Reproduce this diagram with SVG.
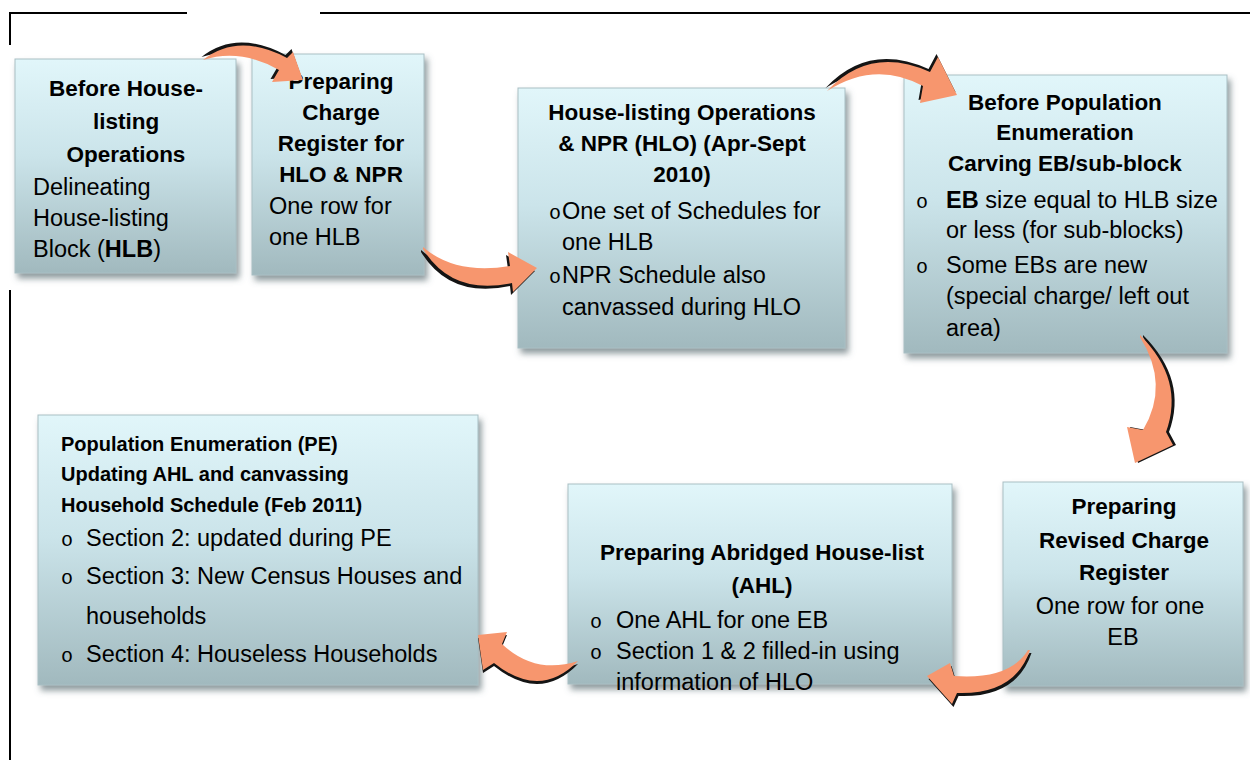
<svg xmlns="http://www.w3.org/2000/svg" xmlns:xlink="http://www.w3.org/1999/xlink" width="1250" height="760" viewBox="0 0 1250 760">
  <defs>
    <linearGradient id="boxGrad" x1="0" y1="0" x2="0" y2="1">
      <stop offset="0" stop-color="#e1f6fa"/>
      <stop offset="0.45" stop-color="#cbe4ea"/>
      <stop offset="1" stop-color="#a1b9be"/>
    </linearGradient>
    <filter id="shadow" x="-10%" y="-10%" width="125%" height="130%">
      <feDropShadow dx="3" dy="5" stdDeviation="3" flood-color="#5d7175" flood-opacity="0.7"/>
    </filter>
    <path id="a1" d="M203,60 Q238,32 287,58 L293,52 L303,80 L272,82 L279,70 Q240,48 203,60 Z"/>
    <path id="a2" d="M423,247 Q455,275 510,266 L508,252 L537,268 L513,292 L512,283 Q452,296 423,249 Z"/>
    <path id="a3" d="M827,91 Q870,45 930,72 L938,57 L957,95 L920,103 L923,86 Q875,60 827,91 Z"/>
    <path id="a4" d="M1140,335 Q1185,380 1166,432 L1173,445 L1135,463 L1127,427 L1143,430 Q1170,385 1140,337 Z"/>
    <path id="a5" d="M1030,650 Q1015,695 957,693 L952,704 L927,676 L950,663 L954,676 Q1010,680 1028,650 Z"/>
    <path id="a6" d="M578,661 Q540,700 494,663 L483,670 L478,635 L507,632 L502,644 Q535,675 578,661 Z"/>
  </defs>
  <style>
    .box { fill: url(#boxGrad); stroke: #a9bfc4; stroke-width: 1; filter: url(#shadow); }
    text { font-family: "Liberation Sans", Arial, sans-serif; fill: #000; }
    .h { font-weight: bold; font-size: 22.5px; }
    .hs { font-weight: bold; font-size: 20px; }
    .t { font-size: 23.5px; }
    .c { text-anchor: middle; }
    .b { font-family: "Liberation Mono", monospace; font-size: 20px; }
    .edge { fill: #141414; }
    .fill { fill: #f7966e; }
    .frame { stroke: #000; stroke-width: 2; fill: none; }
  </style>
  <rect width="1250" height="760" fill="#ffffff"/>

  <g id="frame">
    <path class="frame" d="M10,45 V13 H187 M320,13 H1250 M10,290 V760"/>
  </g>

  <g id="node-before-hlo">
    <rect class="box" x="15" y="59" width="221" height="214"/>
    <text class="h c" x="126" y="96">Before House-</text>
    <text class="h c" x="126" y="129">listing</text>
    <text class="h c" x="126" y="162">Operations</text>
    <text class="t" x="33" y="195">Delineating</text>
    <text class="t" x="33" y="226">House-listing</text>
    <text class="t" x="33" y="257">Block (<tspan font-weight="bold">HLB</tspan>)</text>
  </g>

  <g id="node-charge-register">
    <rect class="box" x="252" y="54" width="172" height="221"/>
    <text class="h c" x="341" y="89">Preparing</text>
    <text class="h c" x="341" y="120">Charge</text>
    <text class="h c" x="341" y="151">Register for</text>
    <text class="h c" x="341" y="182">HLO &amp; NPR</text>
    <text class="t" x="269" y="214">One row for</text>
    <text class="t" x="269" y="245">one HLB</text>
  </g>

  <g id="node-hlo">
    <rect class="box" x="518" y="88" width="327" height="260"/>
    <text class="h c" x="682" y="120">House-listing Operations</text>
    <text class="h c" x="682" y="151">&amp; NPR (HLO) (Apr-Sept</text>
    <text class="h c" x="682" y="182">2010)</text>
    <text class="t" x="549" y="219"><tspan class="b" font-size="17px">o</tspan><tspan x="562">One set of Schedules for</tspan></text>
    <text class="t" x="562" y="250">one HLB</text>
    <text class="t" x="549" y="283"><tspan class="b" font-size="17px">o</tspan><tspan x="562">NPR Schedule also</tspan></text>
    <text class="t" x="562" y="315">canvassed during HLO</text>
  </g>

  <g id="node-before-pe">
    <rect class="box" x="904" y="75" width="323" height="278"/>
    <text class="h c" x="1065" y="110">Before Population</text>
    <text class="h c" x="1065" y="140">Enumeration</text>
    <text class="h c" x="1065" y="171">Carving EB/sub-block</text>
    <text class="t" x="916" y="208"><tspan class="b">o</tspan><tspan x="946"><tspan font-weight="bold">EB</tspan> size equal to HLB size</tspan></text>
    <text class="t" x="946" y="238">or less (for sub-blocks)</text>
    <text class="t" x="916" y="273"><tspan class="b">o</tspan><tspan x="946">Some EBs are new</tspan></text>
    <text class="t" x="946" y="304">(special charge/ left out</text>
    <text class="t" x="946" y="336">area)</text>
  </g>

  <g id="node-revised-register">
    <rect class="box" x="1003" y="482" width="240" height="204"/>
    <text class="h c" x="1124" y="514">Preparing</text>
    <text class="h c" x="1124" y="548">Revised Charge</text>
    <text class="h c" x="1124" y="580">Register</text>
    <text class="t c" x="1120" y="614">One row for one</text>
    <text class="t c" x="1123" y="645">EB</text>
  </g>

  <g id="node-ahl">
    <rect class="box" x="568" y="484" width="384" height="200"/>
    <text class="h c" x="762" y="560">Preparing Abridged House-list</text>
    <text class="h c" x="762" y="593">(AHL)</text>
    <text class="t" x="590" y="628"><tspan class="b">o</tspan><tspan x="616">One AHL for one EB</tspan></text>
    <text class="t" x="590" y="659"><tspan class="b">o</tspan><tspan x="616">Section 1 &amp; 2 filled-in using</tspan></text>
    <text class="t" x="616" y="690">information of HLO</text>
  </g>

  <g id="node-pe">
    <rect class="box" x="38" y="415" width="440" height="270"/>
    <text class="hs" x="61" y="451">Population Enumeration (PE)</text>
    <text class="hs" x="61" y="481">Updating AHL and canvassing</text>
    <text class="hs" x="61" y="512">Household Schedule (Feb 2011)</text>
    <text class="t" x="61" y="546"><tspan class="b">o</tspan><tspan x="86">Section 2: updated during PE</tspan></text>
    <text class="t" x="61" y="584"><tspan class="b">o</tspan><tspan x="86">Section 3: New Census Houses and</tspan></text>
    <text class="t" x="86" y="624">households</text>
    <text class="t" x="61" y="662"><tspan class="b">o</tspan><tspan x="86">Section 4: Houseless Households</tspan></text>
  </g>

  <g id="connectors">
    <use xlink:href="#a1" class="edge" transform="translate(-1.5,-3)"/>
    <use xlink:href="#a1" class="fill"/>
    <use xlink:href="#a2" class="edge" transform="translate(-2,3)"/>
    <use xlink:href="#a2" class="fill"/>
    <use xlink:href="#a3" class="edge" transform="translate(-1.5,-3)"/>
    <use xlink:href="#a3" class="fill"/>
    <use xlink:href="#a4" class="edge" transform="translate(3,0)"/>
    <use xlink:href="#a4" class="fill"/>
    <use xlink:href="#a5" class="edge" transform="translate(1.5,3)"/>
    <use xlink:href="#a5" class="fill"/>
    <use xlink:href="#a6" class="edge" transform="translate(0,3)"/>
    <use xlink:href="#a6" class="fill"/>
  </g>
</svg>
